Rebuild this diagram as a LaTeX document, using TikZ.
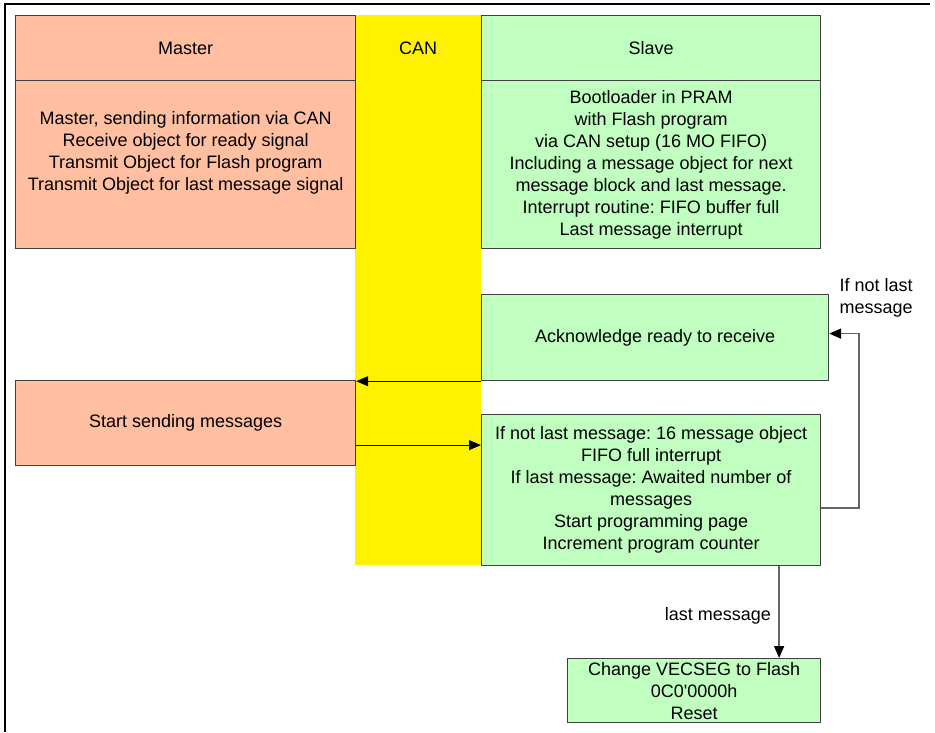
\documentclass[tikz,border=0pt]{standalone}
\usepackage{fontspec}
\setmainfont{Liberation Sans}
\usepackage{tikz}
\usetikzlibrary{arrows.meta}
\usetikzlibrary{calc}
\frenchspacing

\definecolor{masterred}{RGB}{255,191,160}
\definecolor{slavegreen}{RGB}{192,255,192}
\definecolor{boxgray}{RGB}{64,64,64}
\definecolor{linegray}{RGB}{100,100,100}

\begin{document}
\begin{tikzpicture}[x=1pt, y=-1pt, font=\fontsize{18}{22}\selectfont,
        master_style/.style={rectangle,draw=boxgray,fill=masterred,line width=1.2pt,anchor=north west,inner sep=0pt,align=center},
        slave_style/.style={rectangle,draw=boxgray,fill=slavegreen,line width=1.2pt,anchor=north west,inner sep=0pt,align=center},
        lane_style/.style={rectangle,fill=yellow,anchor=north west,inner sep=0pt},
        edge_style/.style={draw=black, line width=1pt, -{Triangle[length=12pt,width=10pt]}},
        return_edge_style/.style={draw=linegray, line width=1.5pt, -{Triangle[length=12pt,width=10pt,fill=black,color=black]}}]

        \useasboundingbox (0,0) rectangle (935,732);

        \draw [line width=2.5pt] (5,732) -- (5,4) -- (930,4);

        \node [lane_style,minimum width=126pt,minimum height=550pt](can_lane) at (355,15) {};

        \node [master_style,minimum width=340pt,minimum height=65pt](master_head) at (15,15) {Master};

        \node [master_style,minimum width=340pt,minimum height=168pt](master_body) at (15,80) {};

        \node [align=center](master_text) at ($(master_body.center)+(0,-12)$) {Master, sending information via CAN\\Receive object for ready signal\\Transmit Object for Flash program\\Transmit Object for last message signal};

        \node (can_title) at (can_lane.north |- master_head.center) {CAN};

        \node [slave_style,minimum width=339pt,minimum height=65pt](slave_head) at (481,15) {Slave};

        \node [slave_style,minimum width=339pt,minimum height=168pt](slave_body) at (481,80) {Bootloader in PRAM\\with Flash program\\via CAN setup (16 MO FIFO)\\Including a message object for next\\message block and last message.\\Interrupt routine: FIFO buffer full\\Last message interrupt};

        \node [slave_style,minimum width=347pt,minimum height=86pt](ack) at (481,294) {Acknowledge ready to receive};

        \node [master_style,minimum width=340pt,minimum height=85pt](start) at (15,380) {Start sending messages};

        \node [slave_style,minimum width=339pt,minimum height=151pt](proc) at (481,414) {If not last message: 16 message object\\FIFO full interrupt\\If last message: Awaited number of\\messages\\Start programming page\\Increment program counter};

        \node [slave_style,minimum width=253pt,minimum height=64pt](reset) at (567,658) {Change VECSEG to Flash\\0C0\textquotesingle 0000h\\Reset};

        \draw [edge_style] (ack.south west) -- (ack.south west -| start.east);

        \draw [edge_style] ([yshift=-22pt]start.east) -- ([yshift=-22pt]start.east -| proc.west);

        \draw [return_edge_style] ([yshift=-18pt]proc.east) -- ++(38,0) |- ([yshift=4pt]ack.east)
            node [pos=0.5, anchor=south, align=left, xshift=17pt, yshift=12pt] {If not last\\message};

        \draw [return_edge_style] ([xshift=128pt]proc.south) -- ([xshift=128pt]proc.south |- reset.north)
            node [midway, left, xshift=-4pt, yshift=-4pt] {last message};

\end{tikzpicture}
\end{document}
